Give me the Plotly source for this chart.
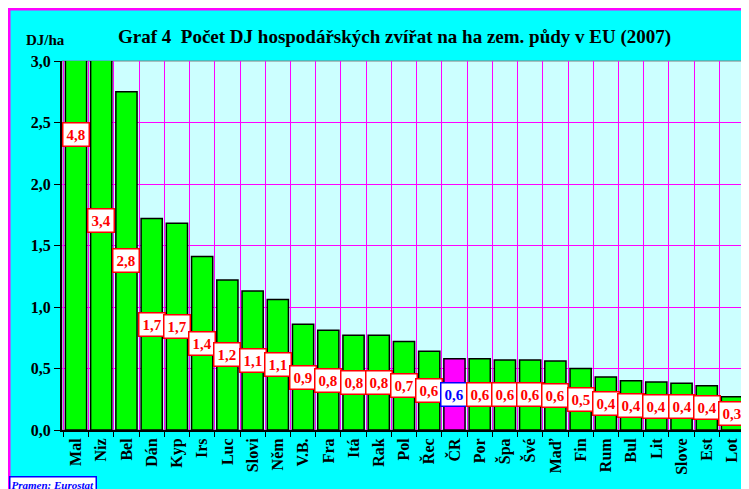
import plotly.graph_objects as go

countries = ["Mal", "Niz", "Bel", "Dán", "Kyp", "Irs", "Luc", "Slovi", "Něm", "V.B.",
             "Fra", "Itá", "Rak", "Pol", "Řec", "ČR", "Por", "Špa", "Švé", "Maď",
             "Fin", "Rum", "Bul", "Lit", "Slove", "Est", "Lot"]
values = [4.8, 3.4, 2.75, 1.72, 1.68, 1.41, 1.22, 1.13, 1.06, 0.86,
          0.81, 0.77, 0.77, 0.72, 0.64, 0.58, 0.58, 0.57, 0.57, 0.56,
          0.50, 0.43, 0.40, 0.39, 0.38, 0.36, 0.27]
highlight = "ČR"

labels = [f"{v:.1f}".replace(".", ",") for v in values]
bar_colors = ["#FF00FF" if c == highlight else "#00FF00" for c in countries]

FONT = "Liberation Serif"

# figure geometry (page has 8px body margin)
W, H = 741, 481
L, R, T, B = 54, 3, 53, 59
PW, PH = W - L - R, H - T - B
OFF = 8


def px(xpage):
    return (xpage - OFF - L) / PW


def py(ypage):
    return (H - B - (ypage - OFF)) / PH


fig = go.Figure()
fig.add_trace(go.Bar(
    x=countries, y=values,
    marker=dict(color=bar_colors, line=dict(color="black", width=1.5)),
    hoverinfo="x+y",
))

annotations = []
for c, v, lab in zip(countries, values, labels):
    col = "#0000FF" if c == highlight else "#FF0000"
    annotations.append(dict(
        x=c, y=v / 2, xref="x", yref="y", text=f"<b>{lab}</b>", showarrow=False,
        font=dict(family=FONT, size=15, color=col),
        bgcolor="white", bordercolor=col, borderwidth=1.5, borderpad=3,
    ))

annotations.append(dict(
    xref="paper", yref="paper", x=px(394), y=py(37), xanchor="center", yanchor="middle",
    text="<b>Graf 4\u00a0 Počet DJ hospodářských zvířat na ha zem. půdy v EU (2007)</b>",
    showarrow=False, font=dict(family=FONT, size=19, color="black"),
))
annotations.append(dict(
    xref="paper", yref="paper", x=px(45), y=py(40),
    xanchor="center", yanchor="middle",
    text="<b>DJ/ha</b>", showarrow=False, font=dict(family=FONT, size=15, color="black"),
))
annotations.append(dict(
    xref="paper", yref="paper", x=px(9), y=py(476),
    xanchor="left", yanchor="top",
    text="<b><i>Pramen: Eurostat</i></b>", showarrow=False,
    font=dict(family=FONT, size=11, color="#0000FF"),
    bgcolor="white", bordercolor="#0000FF", borderwidth=1.5, borderpad=1,
))

shapes = [
    # plot area border
    dict(type="rect", xref="paper", yref="paper", x0=0, x1=1, y0=0, y1=1,
         line=dict(color="#808080", width=1), layer="below"),
    # magenta frame at top/left of chart area
    dict(type="line", xref="paper", yref="paper",
         x0=px(8), x1=px(760), y0=py(9), y1=py(9),
         line=dict(color="#FF00FF", width=3)),
    dict(type="line", xref="paper", yref="paper",
         x0=px(9), x1=px(9), y0=py(500), y1=py(9),
         line=dict(color="#FF00FF", width=3)),
]

fig.update_layout(
    width=W, height=H,
    margin=dict(l=L, r=R, t=T, b=B, pad=0),
    paper_bgcolor="#00FFFF", plot_bgcolor="#CCFFFF",
    separators=", ",
    bargap=0.16,
    showlegend=False,
    annotations=annotations,
    shapes=shapes,
    xaxis=dict(
        type="category", tickson="boundaries", tickangle=-90,
        showgrid=True, gridcolor="#FF00FF", gridwidth=1,
        ticks="outside", ticklen=5, tickcolor="black",
        showline=True, linecolor="black", linewidth=2,
        tickfont=dict(family=FONT, size=16, color="black", weight="bold"),
    ),
    yaxis=dict(
        range=[0, 3], dtick=0.5, tickformat=".1f",
        showgrid=True, gridcolor="#FF00FF", gridwidth=1,
        ticks="outside", ticklen=6, tickcolor="black",
        showline=True, linecolor="black", linewidth=2,
        zeroline=False,
        tickfont=dict(family=FONT, size=16, color="black", weight="bold"),
    ),
)

fig.write_html("out.html")
